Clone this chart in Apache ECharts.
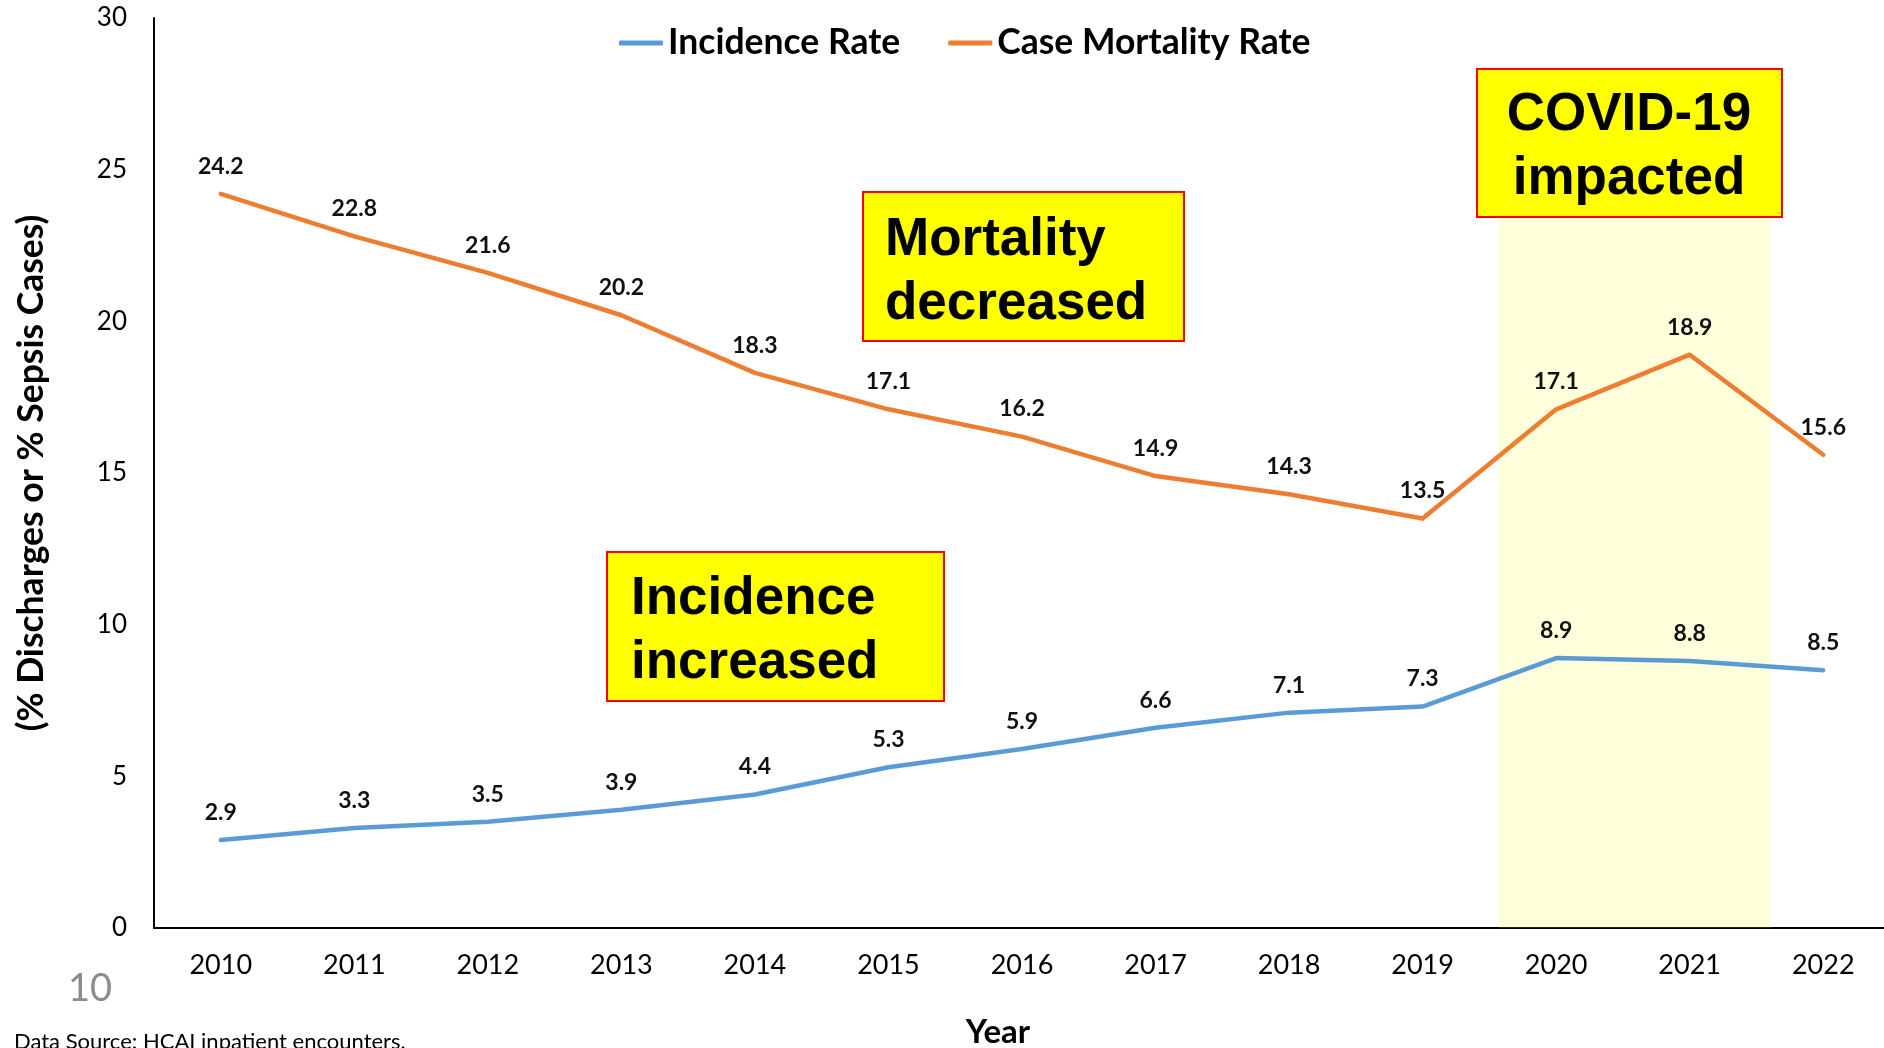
<!DOCTYPE html>
<html>
<head>
<meta charset="utf-8">
<script src="https://cdn.jsdelivr.net/npm/echarts@6/dist/echarts.min.js"></script>
<style>
  html, body { margin: 0; padding: 0; background: #fff; }
  #chart { width: 1884px; height: 1048px; }
</style>
</head>
<body>
<div id="chart"></div>
<script>
// Sepsis incidence and case mortality, 2010-2022
const years = ['2010', '2011', '2012', '2013', '2014', '2015', '2016', '2017', '2018', '2019', '2020', '2021', '2022'];
const incidenceRate = [2.9, 3.3, 3.5, 3.9, 4.4, 5.3, 5.9, 6.6, 7.1, 7.3, 8.9, 8.8, 8.5];
const caseMortalityRate = [24.2, 22.8, 21.6, 20.2, 18.3, 17.1, 16.2, 14.9, 14.3, 13.5, 17.1, 18.9, 15.6];
// COVID-19 period, in category-index units along the year axis, and its height in %
const covidBandX = [9.57, 11.61];
const covidBandY = [0, 24];

const chart = echarts.init(document.getElementById('chart'), null, { renderer: 'canvas' });

const labelStyle = {
  show: true,
  position: 'top',
  distance: 16,
  fontFamily: 'Lato',
  fontWeight: 'bold',
  fontSize: 23,
  color: '#111'
};

function noteBox(x, y, w, h, text, textX, textY, align) {
  return {
    type: 'group',
    z: 100,
    children: [
      {
        type: 'rect',
        shape: { x: x, y: y, width: w, height: h },
        style: { fill: '#FFFF00', stroke: '#FF0000', lineWidth: 2 },
        z: 100
      },
      {
        type: 'text',
        x: textX,
        y: textY,
        z: 101,
        style: {
          text: text,
          fontFamily: 'Liberation Sans',
          fontWeight: 'bold',
          fontSize: 53,
          lineHeight: 64,
          fill: '#000',
          align: align,
          verticalAlign: 'top'
        }
      }
    ]
  };
}

const option = {
  animation: false,
  backgroundColor: '#fff',
  textStyle: { fontFamily: 'Lato' },
  grid: { left: 154, right: -6, top: 18, bottom: 120, outerBoundsMode: 'none' },
  legend: {
    data: ['Incidence Rate', 'Case Mortality Rate'],
    left: 614,
    top: 20,
    icon: 'roundRect',
    itemWidth: 44,
    itemHeight: 5,
    itemGap: 48,
    textStyle: { fontFamily: 'Lato', fontWeight: 'bold', fontSize: 35.5, color: '#000' }
  },
  xAxis: [
    {
      type: 'category',
      data: years,
      boundaryGap: true,
      axisLine: { lineStyle: { color: '#000', width: 2 } },
      axisTick: { show: false },
      axisLabel: { fontFamily: 'Lato', fontSize: 27, color: '#000', margin: 24 },
      name: 'Year',
      nameLocation: 'middle',
      nameGap: 88,
      nameTextStyle: { fontFamily: 'Lato', fontSize: 33, fontWeight: 'bold', color: '#000', padding: [0, 48, 0, 0] }
    },
    {
      type: 'value',
      min: -0.5,
      max: 12.5,
      show: false
    }
  ],
  yAxis: {
    type: 'value',
    min: 0,
    max: 30,
    interval: 5,
    splitLine: { show: false },
    axisLine: { show: true, onZero: false, lineStyle: { color: '#000', width: 2 } },
    axisTick: { show: false },
    axisLabel: { fontFamily: 'Lato', fontSize: 26, color: '#000', margin: 27 },
    name: '(% Discharges or % Sepsis Cases)',
    nameLocation: 'middle',
    nameRotate: 90,
    nameGap: 104,
    nameTextStyle: { fontFamily: 'Lato', fontSize: 35.5, fontWeight: 'bold', color: '#000' }
  },
  series: [
    {
      name: 'Incidence Rate',
      type: 'line',
      data: incidenceRate,
      showSymbol: true,
      symbol: 'circle',
      symbolSize: 0.1,
      z: 2,
      lineStyle: { color: '#5B9BD5', width: 4.5, cap: 'round', join: 'round' },
      itemStyle: { color: '#5B9BD5' },
      label: labelStyle
    },
    {
      name: 'Case Mortality Rate',
      type: 'line',
      data: caseMortalityRate,
      showSymbol: true,
      symbol: 'circle',
      symbolSize: 0.1,
      z: 2,
      lineStyle: { color: '#ED7D31', width: 4.5, cap: 'round', join: 'round' },
      itemStyle: { color: '#ED7D31' },
      label: labelStyle
    },
    {
      name: 'COVID-19 period',
      type: 'line',
      xAxisIndex: 1,
      data: [],
      z: 10,
      silent: true,
      markArea: {
        silent: true,
        itemStyle: { color: 'rgba(255, 255, 0, 0.14)' },
        data: [[
          { coord: [covidBandX[0], covidBandY[0]] },
          { coord: [covidBandX[1], covidBandY[1]] }
        ]]
      }
    }
  ],
  graphic: [
    noteBox(863, 192, 321, 149, 'Mortality\ndecreased', 885, 208, 'left'),
    noteBox(607, 552, 337, 149, 'Incidence\nincreased', 631, 567, 'left'),
    noteBox(1477, 69, 305, 148, 'COVID-19\nimpacted', 1629, 83, 'center'),
    {
      type: 'text',
      left: 68,
      top: 970,
      z: 50,
      style: { text: '10', fontFamily: 'Lato', fontSize: 38, fill: '#8C8C8C' }
    },
    {
      type: 'text',
      left: 14,
      top: 1031,
      z: 50,
      style: { text: 'Data Source: HCAI inpatient encounters.', fontFamily: 'Lato', fontSize: 22, fill: '#000' }
    }
  ]
};

chart.setOption(option);
</script>
</body>
</html>
